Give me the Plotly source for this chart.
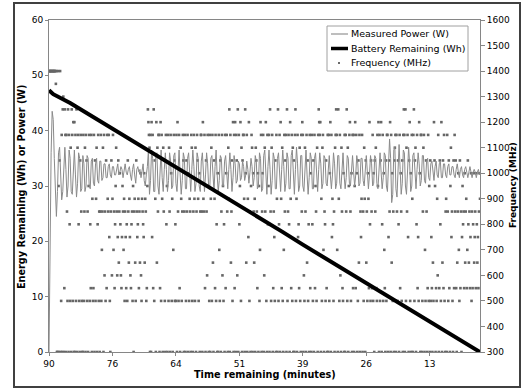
import plotly.graph_objects as go

# ---------------- data ----------------
time_labels = ["90", "76", "64", "51", "39", "26", "13"]
label_index = [0, 120, 240, 360, 480, 600, 720]

# Measured power (W), one value every 2 sample indices
power_w = [
    0, 20, 36, 43.5, 42, 35, 27, 24.5, 29, 36, 37, 32, 27.5, 29, 35, 37,
    33, 28, 30, 36.5, 35, 29, 28.5, 34, 36.5, 32, 28, 30.5, 36, 35, 29, 29.5,
    35.5, 34, 29, 30, 35.5, 35, 30, 29.5, 34.5, 35, 30.5, 30, 34, 35, 31, 30.5,
    34.5, 34.5, 31, 31.5, 34, 34, 31.5, 31.5, 33.5, 34, 32, 31.5, 33.5, 33.5, 32, 32,
    33, 34, 32, 32.5, 33.5, 33, 31.5, 32.5, 34, 32.5, 32, 33, 33.5, 32, 31, 33,
    34, 32, 30.5, 33, 33.5, 32.5, 33, 31.5, 32.5, 34, 31, 30, 32, 33.5, 36.5, 28.5,
    31, 36.5, 35, 29, 29, 35.5, 36, 30, 28.5, 34, 36.5, 31.5, 29, 33, 36, 33,
    29, 31, 36, 34.5, 29.5, 30, 35.5, 36, 30.5, 29, 34, 36.5, 32, 28.5, 31, 36,
    35, 29.5, 29.5, 35, 36, 31, 29, 33, 36.5, 33.5, 29, 30.5, 36, 35, 30, 29,
    34.5, 36, 31, 29, 32, 36, 34, 29.5, 29.5, 35, 35.5, 30.5, 29, 33.5, 36.5, 32,
    29, 31, 35.5, 35, 30, 30, 34.5, 35.5, 31, 29.5, 33, 36, 33, 29, 31.5, 35.5,
    34, 30.5, 31, 34.5, 34, 31, 31.5, 34.5, 33.5, 31, 32, 34.5, 33, 30.5, 32.5, 35,
    33.5, 30, 31.5, 35.5, 34.5, 29.5, 30, 36, 35, 29, 29.5, 35.5, 36.5, 30.5, 28.5, 33.5,
    36.5, 33, 28.5, 31, 36, 35, 29.5, 29.5, 35, 36, 31, 29, 33, 36.5, 33.5, 29,
    30.5, 36, 35, 29.5, 29.5, 35.5, 36.5, 31, 28.5, 33, 37, 34, 29, 30, 35.5, 35.5,
    30, 29, 34, 36.5, 32, 28.5, 31.5, 36, 35, 29.5, 29.5, 35, 36, 31, 29, 33,
    36, 34, 29.5, 30.5, 35.5, 35, 30.5, 30, 34, 35.5, 32, 29.5, 32, 36, 34, 29.5,
    30.5, 35.5, 35.5, 30.5, 29.5, 34.5, 36, 32, 29.5, 31.5, 35.5, 35, 30.5, 30, 34, 35.5,
    32.5, 30, 32, 35.5, 34, 30, 30.5, 35, 35, 31, 30, 34, 35.5, 32.5, 29.5, 32,
    35.5, 34, 30, 30.5, 35.5, 35, 30.5, 29.5, 34, 36, 32.5, 29.5, 31.5, 36, 35.5, 30,
    29, 33, 38.5, 35, 27, 28.5, 36.5, 37, 29.5, 28, 34, 37.5, 33, 28.5, 30.5, 36.5,
    36, 30, 28.5, 33.5, 37, 34, 29, 30, 35.5, 36, 31, 29.5, 33, 36, 34, 30,
    31, 35.5, 35.5, 31, 30.5, 34.5, 35, 31.5, 31, 34, 34.5, 32, 31, 33.5, 34.5, 32,
    31.5, 34, 34.5, 31.5, 31.5, 34, 34, 32, 31.5, 33.5, 34, 32, 32, 33.5, 33.5, 32,
    31.5, 33, 34, 32.5, 31.5, 33, 33.5, 32, 31.5, 33, 33.5, 32.5, 31.5, 32.5, 33.5, 32.5,
    31.5, 32.5, 33, 32.5, 31.5, 32.5, 33, 32,
]

# Battery remaining (Wh) read at selected sample indices
battery_index = [0, 8, 40, 80, 120, 160, 200, 240, 280, 320, 360, 400, 440,
                 480, 520, 560, 600, 640, 680, 720, 760, 800, 815]
battery_wh = [47.3, 46.6, 45.0, 42.7, 40.4, 38.0, 35.7, 33.4, 31.1, 28.7, 26.4,
              24.1, 21.8, 19.4, 17.1, 14.8, 12.5, 10.1, 7.8, 5.5, 3.2, 0.9, 0.0]

# CPU frequency (MHz), one value per sample index
freq_mhz = [
    1400, 1400, 1400, 1400, 1400, 1400, 1400, 1400, 1400, 1400, 1400, 1400, 1400, 1350, 1400, 300,
    300, 1400, 950, 300, 1050, 1400, 300, 500, 1150, 300, 1250, 1300, 300, 550, 1250, 1150,
    300, 1150, 850, 500, 1250, 300, 1150, 800, 500, 1100, 300, 1250, 1150, 500, 1200, 300,
    1200, 300, 1150, 500, 1250, 300, 1100, 1150, 800, 500, 300, 1050, 1150, 850, 500, 300,
    300, 1150, 500, 850, 1100, 300, 1150, 1050, 500, 850, 300, 950, 1150, 500, 800, 550,
    1150, 300, 900, 500, 550, 1150, 300, 1050, 500, 900, 1100, 300, 800, 1150, 500, 850,
    300, 850, 1150, 500, 700, 850, 1100, 300, 1150, 600, 850, 500, 1050, 550, 1150, 900,
    850, 1150, 750, 500, 300, 850, 1050, 600, 900, 1150, 700, 850, 550, 800, 950, 1100,
    850, 600, 750, 1050, 650, 850, 1000, 800, 600, 550, 750, 950, 850, 700, 900, 500,
    850, 750, 550, 800, 500, 1050, 850, 650, 900, 750, 600, 550, 800, 850, 500, 950,
    300, 850, 900, 650, 500, 1050, 850, 750, 800, 900, 550, 850, 650, 1000, 600, 500,
    900, 850, 800, 750, 1000, 650, 900, 850, 500, 550, 950, 1250, 1200, 1150, 1100, 300,
    1150, 300, 1200, 750, 1150, 550, 1250, 500, 1050, 900, 300, 1200, 650, 1100, 850, 1150,
    1150, 300, 550, 1200, 500, 1150, 900, 300, 1100, 850, 1050, 500, 300, 1150, 800, 950,
    300, 1150, 500, 1100, 850, 300, 1150, 1000, 500, 900, 300, 700, 1150, 1050, 500, 800,
    500, 1150, 300, 1200, 850, 500, 1150, 550, 300, 1100, 900, 500, 850, 1150, 1050, 300,
    850, 1150, 300, 500, 1050, 850, 1150, 300, 1000, 500, 900, 850, 300, 1150, 1100, 500,
    300, 850, 1150, 900, 500, 1100, 300, 850, 1150, 1050, 900, 500, 1000, 300, 850, 1150,
    1150, 850, 300, 1200, 900, 850, 1150, 550, 300, 1050, 850, 600, 1150, 950, 300, 500,
    1150, 300, 900, 1100, 500, 1150, 650, 300, 1050, 900, 550, 1150, 500, 800, 300, 1000,
    300, 1150, 700, 500, 1050, 300, 850, 1150, 600, 950, 500, 800, 300, 1150, 550, 1000,
    1150, 850, 300, 1100, 900, 1250, 300, 1150, 650, 850, 1050, 500, 1200, 300, 1150, 550,
    1200, 300, 1150, 1050, 600, 1250, 300, 1150, 800, 950, 1200, 500, 1100, 300, 1050, 1150,
    1150, 900, 300, 1250, 1000, 650, 1150, 300, 900, 750, 1200, 500, 850, 300, 950, 1150,
    1100, 300, 1000, 850, 650, 900, 300, 1100, 1050, 850, 550, 1000, 300, 950, 500, 700,
    1200, 1150, 300, 850, 1000, 1150, 300, 600, 1100, 850, 1200, 500, 300, 1150, 800, 950,
    1150, 300, 1250, 850, 500, 1100, 1150, 300, 550, 850, 750, 500, 1050, 300, 1150, 900,
    300, 1250, 500, 800, 1150, 300, 1200, 900, 550, 1100, 500, 300, 700, 1150, 850, 1050,
    1150, 300, 1250, 500, 850, 1150, 800, 300, 1200, 900, 550, 1150, 500, 1100, 300, 1050,
    300, 1150, 1250, 500, 900, 300, 1150, 750, 800, 550, 1100, 500, 300, 1150, 850, 1200,
    1150, 300, 600, 500, 1100, 850, 300, 1150, 650, 1050, 500, 800, 300, 1150, 550, 1000,
    300, 1150, 800, 500, 1050, 300, 1150, 550, 950, 850, 500, 1100, 300, 1150, 1250, 1200,
    1150, 1200, 300, 900, 500, 1100, 1150, 700, 300, 850, 800, 500, 1050, 550, 300, 1150,
    300, 1150, 500, 1000, 1200, 300, 1150, 750, 900, 800, 500, 850, 300, 1100, 1150, 1250,
    1150, 700, 300, 1250, 900, 500, 1150, 600, 300, 1100, 850, 550, 500, 1000, 300, 1150,
    300, 1150, 850, 1250, 500, 1100, 300, 950, 1150, 1200, 850, 500, 1000, 300, 1150, 550,
    1150, 300, 950, 1200, 550, 1150, 1000, 300, 500, 1050, 650, 1150, 300, 850, 750, 900,
    1150, 300, 850, 500, 1100, 900, 300, 1050, 650, 850, 500, 1000, 900, 550, 1200, 800,
    500, 1050, 850, 550, 1150, 500, 1000, 300, 1050, 850, 1100, 550, 500, 1150, 950, 1200,
    300, 1150, 500, 1050, 1200, 300, 800, 1150, 500, 1000, 700, 550, 300, 1050, 500, 1150,
    1150, 300, 750, 1050, 850, 1200, 300, 1150, 650, 1000, 500, 850, 300, 1050, 1100, 1150,
    300, 1150, 850, 500, 1050, 800, 300, 1150, 550, 1000, 850, 500, 1050, 300, 1150, 1250,
    1150, 300, 1250, 500, 1100, 850, 1150, 750, 300, 1050, 1200, 500, 1000, 300, 1150, 900,
    300, 1150, 1250, 500, 1050, 1100, 300, 800, 1150, 550, 750, 500, 1200, 1000, 300, 1150,
    1150, 300, 500, 850, 1100, 1150, 300, 700, 500, 1050, 850, 300, 550, 1150, 500, 950,
    300, 1050, 500, 750, 550, 300, 650, 500, 1200, 1050, 950, 300, 550, 500, 900, 600,
    1150, 300, 550, 1050, 800, 500, 1200, 300, 650, 1050, 550, 1150, 500, 300, 850, 900,
    300, 1150, 850, 500, 1050, 550, 300, 950, 1100, 750, 850, 500, 300, 1050, 550, 1150,
    850, 1050, 550, 300, 650, 850, 1000, 700, 500, 1050, 550, 850, 300, 750, 950, 800,
    850, 550, 1000, 650, 850, 900, 550, 700, 1050, 800, 650, 850, 550, 750, 1000, 500,
    850, 550, 800, 1000, 650, 750, 850, 550, 1000, 800, 650, 750, 550, 850, 1000, 900,
]

power_x = [2 * i for i in range(len(power_w))]
freq_x = list(range(len(freq_mhz)))

# ---------------- figure ----------------
W, H = 521, 389
L, R, T, B = 49, 41, 20, 37
PW, PH = W - L - R, H - T - B
FONT = "DejaVu Sans"
AXC = "#868686"


def px(xp):
    return (xp - L) / PW


def py(yp):
    return (H - B - yp) / PH


fig = go.Figure()

fig.add_trace(go.Scatter(
    x=freq_x, y=freq_mhz, mode="markers", name="Frequency (MHz)",
    marker=dict(symbol="square", size=2.6, color="#666666", line=dict(width=0)),
    yaxis="y", showlegend=False,
))
fig.add_trace(go.Scatter(
    x=power_x, y=power_w, mode="lines", name="Measured Power (W)",
    line=dict(color="#8a8a8a", width=1), yaxis="y2", showlegend=False,
))
fig.add_trace(go.Scatter(
    x=battery_index, y=battery_wh, mode="lines", name="Battery Remaining (Wh)",
    line=dict(color="#000000", width=4), yaxis="y2", showlegend=False,
))

tickfont = dict(family=FONT, size=9, color="#000")
fig.update_layout(
    width=W, height=H,
    margin=dict(l=L, r=R, t=T, b=B, pad=0),
    paper_bgcolor="white", plot_bgcolor="white",
    showlegend=False,
    xaxis=dict(range=[0, 815], tickmode="array", tickvals=label_index, ticktext=time_labels,
               showgrid=False, zeroline=False, showline=True, mirror=True, linecolor=AXC,
               linewidth=1, ticks="outside", ticklen=3, tickcolor=AXC, tickfont=tickfont,
               anchor="y"),
    yaxis=dict(range=[300, 1600], dtick=100, side="right", showgrid=False, zeroline=False,
               showline=True, linecolor=AXC, ticks="outside", ticklen=4, tickcolor=AXC,
               tickfont=tickfont),
    yaxis2=dict(range=[0, 60], dtick=10, side="left", overlaying="y", showgrid=False,
                zeroline=False, showline=True, linecolor=AXC, ticks="outside", ticklen=3,
                tickcolor=AXC, tickfont=tickfont),
)

shapes = []
ann = []
# outer chart border
shapes.append(dict(type="rect", xref="paper", yref="paper",
                   x0=px(14), x1=px(520), y0=py(387), y1=py(3),
                   line=dict(color="#404040", width=2), fillcolor="rgba(0,0,0,0)", layer="below"))
# legend box
lx0, lx1, ly0, ly1 = 327, 468, 26, 71
shapes.append(dict(type="rect", xref="paper", yref="paper",
                   x0=px(lx0), x1=px(lx1), y0=py(ly1), y1=py(ly0),
                   line=dict(color="#a0a0a0", width=1), fillcolor="white", layer="above"))
rows = [34, 48.5, 63]
shapes.append(dict(type="line", xref="paper", yref="paper", x0=px(331), x1=px(348),
                   y0=py(rows[0]), y1=py(rows[0]), line=dict(color="#a8a8a8", width=1.5), layer="above"))
shapes.append(dict(type="line", xref="paper", yref="paper", x0=px(331), x1=px(348),
                   y0=py(rows[1]), y1=py(rows[1]), line=dict(color="#000", width=3.5), layer="above"))
shapes.append(dict(type="rect", xref="paper", yref="paper", x0=px(338), x1=px(340),
                   y0=py(rows[2] + 1), y1=py(rows[2] - 1), line=dict(width=0),
                   fillcolor="#6a6a6a", layer="above"))
for txt, yy in zip(["Measured Power (W)", "Battery Remaining (Wh)", "Frequency (MHz)"], rows):
    ann.append(dict(text=txt, xref="paper", yref="paper", x=px(349), y=py(yy),
                    xanchor="left", yanchor="middle", showarrow=False,
                    font=dict(family=FONT, size=9.5, color="#000")))
# axis titles
ann.append(dict(text="<b>Energy Remaining (Wh) or Power (W)</b>", xref="paper", yref="paper",
                x=px(21), y=py(187), textangle=-90, showarrow=False,
                xanchor="center", yanchor="middle", font=dict(family=FONT, size=9.7, color="#000")))
ann.append(dict(text="<b>Frequency (MHz)</b>", xref="paper", yref="paper",
                x=px(513), y=py(185), textangle=-90, showarrow=False,
                xanchor="center", yanchor="middle", font=dict(family=FONT, size=9, color="#000")))
ann.append(dict(text="<b>Time remaining (minutes)</b>", xref="paper", yref="paper",
                x=px(265), y=py(374), showarrow=False,
                xanchor="center", yanchor="middle", font=dict(family=FONT, size=9.7, color="#000")))

fig.update_layout(shapes=shapes, annotations=ann)
fig.write_html("out.html")
